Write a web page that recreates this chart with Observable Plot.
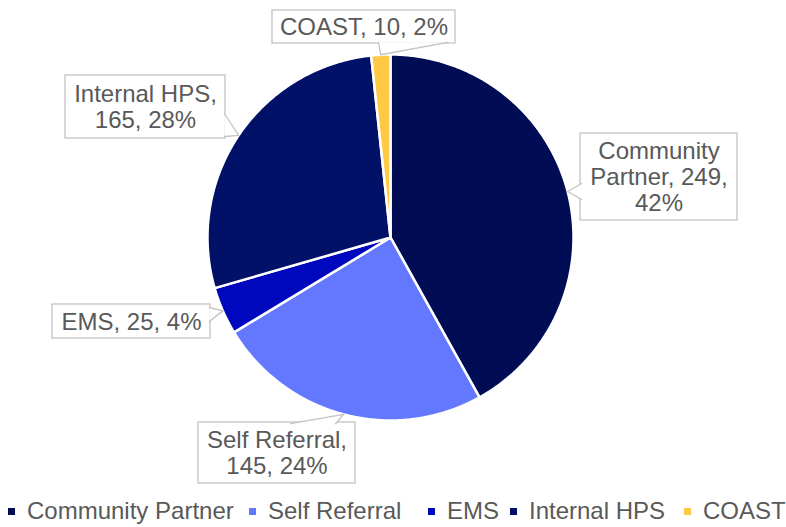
<!DOCTYPE html>
<html>
<head>
<meta charset="utf-8">
<script src="https://cdn.jsdelivr.net/npm/d3@7"></script>
<script src="https://cdn.jsdelivr.net/npm/@observablehq/plot@0.6"></script>
<style>
  body { margin: 0; background: #fff; font-family: "Liberation Sans", Arial, sans-serif; }
  #wrap { position: relative; width: 786px; height: 527px; overflow: hidden; }
  #legend { position: absolute; left: 0; top: 495px; width: 786px; height: 32px; }
  .item { position: absolute; top: 0; height: 32px; display: flex; align-items: center;
          font-size: 24px; color: #595959; white-space: nowrap; }
  .sw { width: 7px; height: 7px; margin-right: 12px; flex: none; }
</style>
</head>
<body>
<div id="wrap"><div id="chart"></div><div id="legend"></div></div>
<script>
// ---- data ----
const categories = ["Community Partner", "Self Referral", "EMS", "Internal HPS", "COAST"];
const values = [249, 145, 25, 165, 10];
const colors = ["#000c54", "#6478ff", "#0008bd", "#001167", "#ffc845"];

// ---- layout (pixels) ----
const CX = 390, CY = 237, R = 183;
const W = 786, H = 495;
const labelLayout = {
  "Community Partner": { box: [580, 133, 737, 220], tail: [[580, 183], [580, 199]], breakAfter: [0, 2] },
  "Self Referral":     { box: [198, 422, 355, 483], tail: [[290, 422], [335, 422]], breakAfter: [1] },
  "EMS":               { box: [52, 304, 210, 338],  tail: [[210, 307], [210, 321]], breakAfter: [] },
  "Internal HPS":      { box: [65, 75, 225, 138],   tail: [[225, 113], [225, 136]], breakAfter: [1] },
  "COAST":             { box: [272, 10, 455, 43],   tail: [[378, 43], [447, 43]],   breakAfter: [] }
};
const legendLeft = [8, 249, 428, 510, 684];

// px -> data units
const dx = px => (px - CX) / R;
const dy = py => (CY - py) / R;

const total = d3.sum(values);
const pcts = values.map(v => Math.round(v / total * 100) + "%");
const arcs = d3.pie().sort(null).value((d, i) => values[i])(categories);

// slice polygons
const slicePts = [];
arcs.forEach((a, i) => {
  const name = categories[i];
  const span = a.endAngle - a.startAngle;
  const n = Math.max(2, Math.ceil(span / (Math.PI / 360)));
  slicePts.push({ name, x: 0, y: 0 });
  for (let k = 0; k <= n; k++) {
    const t = a.startAngle + span * k / n;
    slicePts.push({ name, x: Math.sin(t), y: Math.cos(t) });
  }
  slicePts.push({ name, x: 0, y: 0 });
});

// callouts
const boxes = [], tails = [], labels = [];
arcs.forEach((a, i) => {
  const name = categories[i];
  const L = labelLayout[name];
  const [x1, y1, x2, y2] = L.box;
  boxes.push({ name, x1: dx(x1), x2: dx(x2), y1: dy(y1), y2: dy(y2) });
  const mid = (a.startAngle + a.endAngle) / 2;
  const nudge = ([px, py]) => {
    let nx = px, ny = py;
    if (px === x1) nx += 1.2; if (px === x2) nx -= 1.2;
    if (py === y1) ny += 1.2; if (py === y2) ny -= 1.2;
    return [nx, ny];
  };
  const b1 = nudge(L.tail[0]), b2 = nudge(L.tail[1]);
  tails.push({ name, x: dx(b1[0]), y: dy(b1[1]) });
  tails.push({ name, x: Math.sin(mid), y: Math.cos(mid) });
  tails.push({ name, x: dx(b2[0]), y: dy(b2[1]) });
  const words = `${name}, ${values[i]}, ${pcts[i]}`.split(" ");
  let text = "";
  words.forEach((w, k) => { text += w + (k === words.length - 1 ? "" : (L.breakAfter.includes(k) ? "\n" : " ")); });
  labels.push({ name, x: dx((x1 + x2) / 2), y: dy((y1 + y2) / 2), text });
});

const chart = Plot.plot({
  width: W, height: H,
  margin: 0,
  x: { domain: [-1, 1], range: [CX - R, CX + R], axis: null },
  y: { domain: [-1, 1], range: [CY + R, CY - R], axis: null },
  color: { domain: categories, range: colors },
  style: { background: "#fff", fontFamily: "'Liberation Sans', Arial, sans-serif" },
  marks: [
    Plot.line(slicePts, { x: "x", y: "y", z: "name", fill: "name", stroke: "#ffffff",
                          strokeWidth: 2.5, strokeLinejoin: "round", curve: "linear" }),
    Plot.rect(boxes, { x1: "x1", x2: "x2", y1: "y1", y2: "y2", fill: "#ffffff",
                       stroke: "#c3c3c3", strokeWidth: 1.3 }),
    Plot.line(tails, { x: "x", y: "y", z: "name", fill: "#ffffff", stroke: "#c3c3c3",
                       strokeWidth: 1.3, curve: "linear" }),
    Plot.text(labels, { x: "x", y: "y", text: "text", fontSize: 24, fill: "#595959",
                        lineHeight: 26 / 24, textAnchor: "middle" })
  ]
});
document.getElementById("chart").appendChild(chart);

// legend
const leg = document.getElementById("legend");
categories.forEach((c, i) => {
  const it = document.createElement("div");
  it.className = "item";
  it.style.left = legendLeft[i] + "px";
  const sw = document.createElement("span");
  sw.className = "sw";
  sw.style.background = colors[i];
  const tx = document.createElement("span");
  tx.textContent = c;
  it.appendChild(sw); it.appendChild(tx);
  leg.appendChild(it);
});
</script>
</body>
</html>
